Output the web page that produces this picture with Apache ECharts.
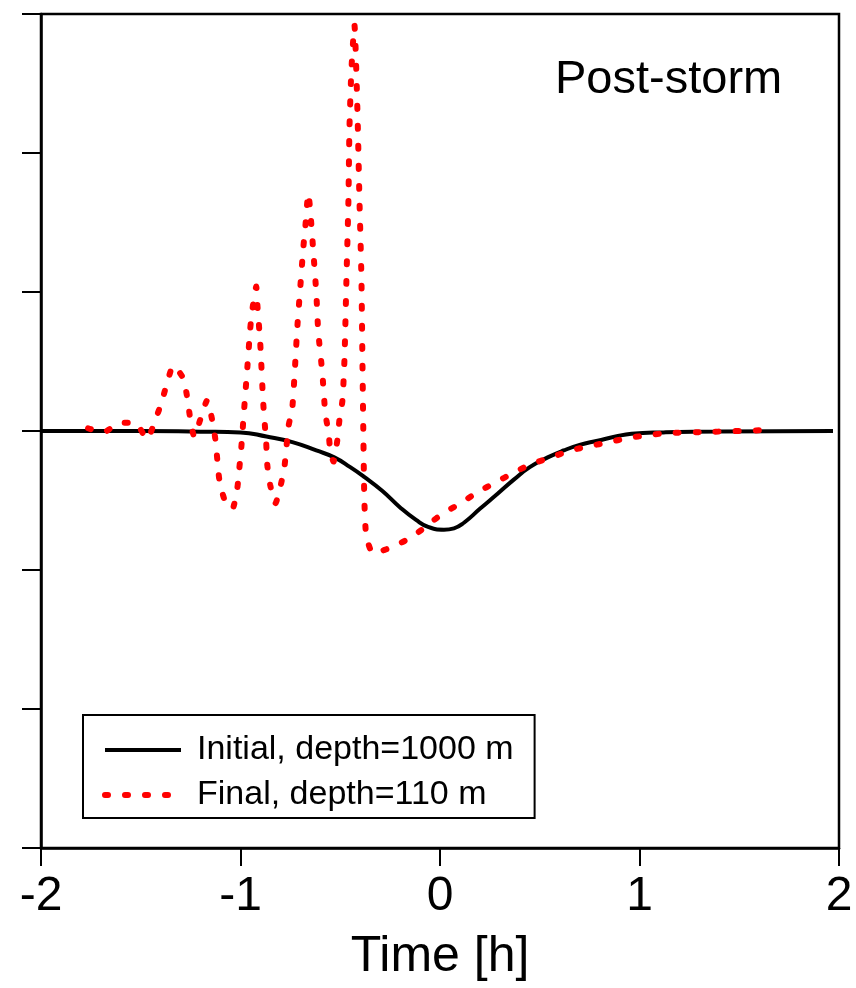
<!DOCTYPE html>
<html>
<head>
<meta charset="utf-8">
<script src="https://cdn.jsdelivr.net/npm/echarts@6/dist/echarts.min.js"></script>
<style>
  html, body { margin: 0; padding: 0; background: #fff; }
  #chart { width: 856px; height: 988px; }
</style>
</head>
<body>
<div id="chart"></div>
<script>
// time [h] and value
var initT = [-2.0, -1.5, -1.2, -1.0, -0.87, -0.74, -0.62, -0.53, -0.45, -0.38, -0.29, -0.2, -0.12, -0.06,
             0.02, 0.07, 0.12, 0.2, 0.29, 0.37, 0.45, 0.54, 0.62, 0.7, 0.79, 0.88, 0.96, 1.12, 1.4, 1.97];
var initV = [0, 0, -0.005, -0.01, -0.04, -0.08, -0.14, -0.19, -0.26, -0.33, -0.43, -0.55, -0.64, -0.69,
             -0.71, -0.70, -0.66, -0.56, -0.45, -0.35, -0.26, -0.19, -0.14, -0.10, -0.07, -0.04, -0.02, -0.01, -0.003, 0];

var finalT = [-1.764, -1.688, -1.603, -1.528, -1.468, -1.432, -1.397, -1.367, -1.337, -1.287, -1.267, -1.252,
              -1.232, -1.202, -1.167, -1.142, -1.126, -1.116, -1.106, -1.081, -1.041, -1.016, -1.006, -0.996,
              -0.981, -0.966, -0.951, -0.941, -0.921, -0.916, -0.901, -0.886, -0.871, -0.866, -0.851, -0.825,
              -0.800, -0.780, -0.770, -0.760, -0.740, -0.715, -0.700, -0.685, -0.675, -0.660, -0.650, -0.635,
              -0.620, -0.610, -0.590, -0.575, -0.559, -0.549, -0.534, -0.514, -0.504, -0.489, -0.479, -0.469,
              -0.459, -0.454, -0.444, -0.429, -0.414, -0.404, -0.394, -0.389, -0.384, -0.379, -0.369, -0.334,
              -0.233, -0.138, -0.048, 0.018, 0.103, 0.188, 0.279, 0.369, 0.454, 0.555, 0.655, 0.746,
              0.846, 0.946, 1.04, 1.14, 1.34, 1.645];
var finalV = [0.02, -0.01, 0.06, 0.06, -0.06, 0.06, 0.20, 0.35, 0.47, 0.38, 0.24, 0.09,
              -0.04, 0.08, 0.22, 0.08, -0.06, -0.21, -0.35, -0.49, -0.56, -0.41, -0.27, -0.12,
              0.17, 0.45, 0.74, 0.87, 1.04, 0.92, 0.63, 0.20, -0.09, -0.24, -0.39, -0.52,
              -0.40, -0.26, -0.12, 0.03, 0.17, 0.75, 1.04, 1.32, 1.47, 1.71, 1.58, 1.29,
              0.99, 0.71, 0.42, 0.13, -0.01, -0.15, -0.22, -0.06, 0.08, 0.22, 0.51, 1.09,
              1.66, 2.17, 2.60, 2.92, 2.31, 1.68, 1.11, 0.53, -0.04, -0.50, -0.76, -0.88,
              -0.83, -0.76, -0.66, -0.59, -0.52, -0.44, -0.37, -0.30, -0.24, -0.19, -0.14, -0.11,
              -0.08, -0.05, -0.03, -0.015, -0.007, 0.007];

var xTicks = [-2, -1, 0, 1, 2];

function pairs(t, v) {
  var out = [];
  for (var i = 0; i < t.length; i++) out.push([t[i], v[i]]);
  return out;
}

var font = 'Liberation Sans, Arial, sans-serif';
var blackLine = { color: '#000', width: 4 };
var redLine = { color: '#ff0000', width: 6, type: [3, 17], cap: 'round' };

var myChart = echarts.init(document.getElementById('chart'));
var option = {
  animation: false,
  backgroundColor: '#fff',
  title: {
    text: 'Post-storm',
    left: 555,
    top: 57,
    padding: 0,
    textStyle: { fontFamily: font, fontSize: 47, fontWeight: 'normal', color: '#000' }
  },
  legend: {
    orient: 'vertical',
    left: 83,
    top: 715,
    padding: [18, 21, 6, 19],
    borderColor: '#000',
    borderWidth: 2,
    itemWidth: 76,
    itemHeight: 20,
    itemGap: 11,
    itemStyle: { opacity: 0 },
    textStyle: { fontFamily: font, fontSize: 34, lineHeight: 34, color: '#000', padding: [0, 0, 0, 11] },
    data: [
      { name: 'Initial, depth=1000 m', lineStyle: blackLine },
      { name: 'Final, depth=110 m', lineStyle: redLine }
    ]
  },
  grid: {
    left: 41, right: 17, top: 14, bottom: 140,
    show: true, borderColor: '#000', borderWidth: 2.5
  },
  xAxis: {
    type: 'value',
    min: -2, max: 2, interval: 1,
    name: 'Time [h]',
    nameLocation: 'middle',
    nameGap: 84,
    nameTextStyle: { fontFamily: font, fontSize: 50, color: '#000' },
    axisLine: { onZero: false, lineStyle: { color: '#000', width: 2.5 } },
    axisTick: { length: 18, lineStyle: { color: '#000', width: 2 } },
    axisLabel: {
      margin: 25, fontFamily: font, fontSize: 48, color: '#000',
      formatter: function (v) { return xTicks.indexOf(v) >= 0 ? String(v) : ''; }
    },
    splitLine: { show: false }
  },
  yAxis: {
    type: 'value',
    min: -3, max: 3, interval: 1,
    axisLine: { onZero: false, lineStyle: { color: '#000', width: 2.5 } },
    axisTick: { length: 19, lineStyle: { color: '#000', width: 2 } },
    axisLabel: { show: false },
    splitLine: { show: false }
  },
  series: [
    {
      name: 'Initial, depth=1000 m',
      type: 'line',
      showSymbol: false,
      symbol: 'none',
      smooth: 0.5,
      lineStyle: blackLine,
      itemStyle: { color: '#000' },
      data: pairs(initT, initV)
    },
    {
      name: 'Final, depth=110 m',
      type: 'line',
      showSymbol: false,
      symbol: 'none',
      smooth: 0.2,
      z: 3,
      lineStyle: redLine,
      itemStyle: { color: '#ff0000' },
      data: pairs(finalT, finalV)
    }
  ]
};
myChart.setOption(option);
</script>
</body>
</html>
